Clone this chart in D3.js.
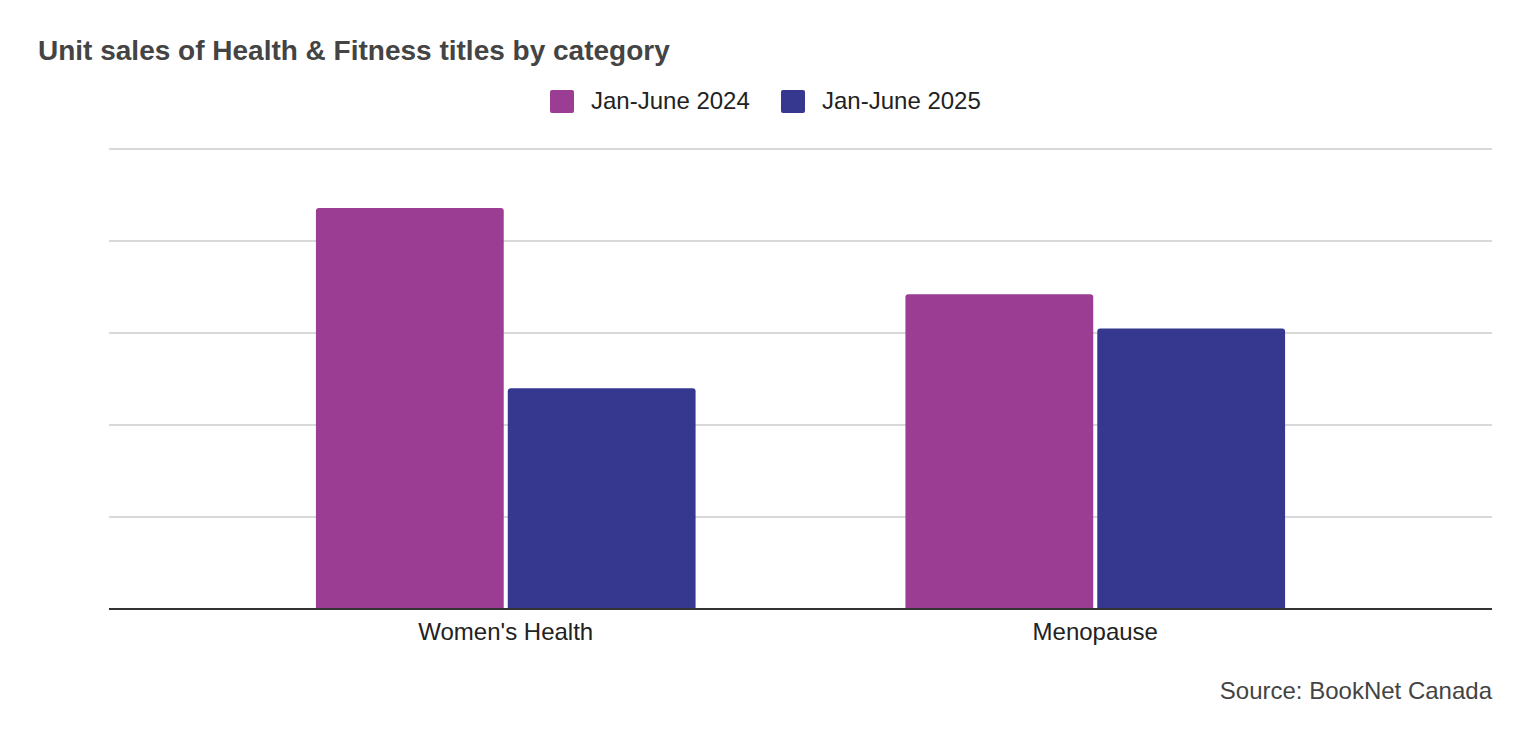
<!DOCTYPE html>
<html>
<head>
<meta charset="utf-8">
<script src="https://cdn.jsdelivr.net/npm/d3@7"></script>
<style>
  body { margin: 0; background: #fff; }
  svg { display: block; font-family: "Liberation Sans", Arial, sans-serif; }
</style>
</head>
<body>
<div id="chart"></div>
<script>
// Categories and series (values read off the gridlines; axis has no labels)
const categories = ["Women's Health", "Menopause"];
const seriesNames = ["Jan-June 2024", "Jan-June 2025"];
const sales2024 = [4.36, 3.42];
const sales2025 = [2.40, 3.05];
const gridTicks = [0, 1, 2, 3, 4, 5];

const width = 1530, height = 742;
const margin = { top: 149, right: 38, bottom: 133, left: 109 };
const colors = ["#9a3d93", "#36378f"];

const svg = d3.select("#chart").append("svg")
    .attr("width", width)
    .attr("height", height);

// Title
svg.append("text")
    .attr("x", 38)
    .attr("y", 60)
    .attr("fill", "#444")
    .style("font-size", "28px")
    .style("font-weight", "bold")
    .text("Unit sales of Health & Fitness titles by category");

const x0 = d3.scaleBand()
    .domain(categories)
    .range([margin.left, width - margin.right])
    .paddingInner(0.356)
    .paddingOuter(0.351);

const x1 = d3.scaleBand()
    .domain(seriesNames)
    .range([0, x0.bandwidth()])
    .paddingInner(0.021);

const y = d3.scaleLinear()
    .domain([0, 5])
    .range([height - margin.bottom, margin.top]);

// Gridlines
svg.append("g")
    .selectAll("line")
    .data(gridTicks.slice(1))
    .enter().append("line")
    .attr("x1", margin.left)
    .attr("x2", width - margin.right)
    .attr("y1", d => y(d))
    .attr("y2", d => y(d))
    .attr("stroke", "#ccc")
    .attr("stroke-width", 1.5);

// Bars with rounded tops
const rows = categories.map((c, i) => ({ cat: c, vals: [sales2024[i], sales2025[i]] }));
function topRounded(x, yTop, w, h, r) {
    return `M${x},${yTop + h}V${yTop + r}Q${x},${yTop} ${x + r},${yTop}` +
        `H${x + w - r}Q${x + w},${yTop} ${x + w},${yTop + r}V${yTop + h}Z`;
}
svg.append("g")
    .selectAll("g")
    .data(rows)
    .enter().append("g")
    .attr("transform", d => `translate(${x0(d.cat)},0)`)
    .selectAll("path")
    .data(d => d.vals.map((v, j) => ({ v, s: seriesNames[j], j })))
    .enter().append("path")
    .attr("fill", d => colors[d.j])
    .attr("d", d => topRounded(x1(d.s), y(d.v), x1.bandwidth(), y(0) - y(d.v), 3));

// Baseline
svg.append("line")
    .attr("x1", margin.left)
    .attr("x2", width - margin.right)
    .attr("y1", y(0))
    .attr("y2", y(0))
    .attr("stroke", "#333")
    .attr("stroke-width", 2);

// Category labels
const xAxis = svg.append("g")
    .attr("transform", `translate(0,${y(0)})`)
    .call(d3.axisBottom(x0).tickSize(0).tickPadding(14));
xAxis.select(".domain").remove();
xAxis.selectAll("text")
    .attr("fill", "#222")
    .style("font-size", "24px")
    .style("font-family", "'Liberation Sans', Arial, sans-serif");

// Legend
const legendItems = [
    { name: seriesNames[0], color: colors[0], x: 550 },
    { name: seriesNames[1], color: colors[1], x: 781 }
];
const legend = svg.append("g")
    .selectAll("g")
    .data(legendItems)
    .enter().append("g")
    .attr("transform", d => `translate(${d.x},90)`);
legend.append("rect")
    .attr("width", 24)
    .attr("height", 23)
    .attr("rx", 2)
    .attr("fill", d => d.color);
legend.append("text")
    .attr("x", 41)
    .attr("y", 19)
    .attr("fill", "#222")
    .style("font-size", "24px")
    .text(d => d.name);

// Source note
svg.append("text")
    .attr("x", width - margin.right)
    .attr("y", 699)
    .attr("text-anchor", "end")
    .attr("fill", "#444")
    .style("font-size", "24px")
    .text("Source: BookNet Canada");
</script>
</body>
</html>
